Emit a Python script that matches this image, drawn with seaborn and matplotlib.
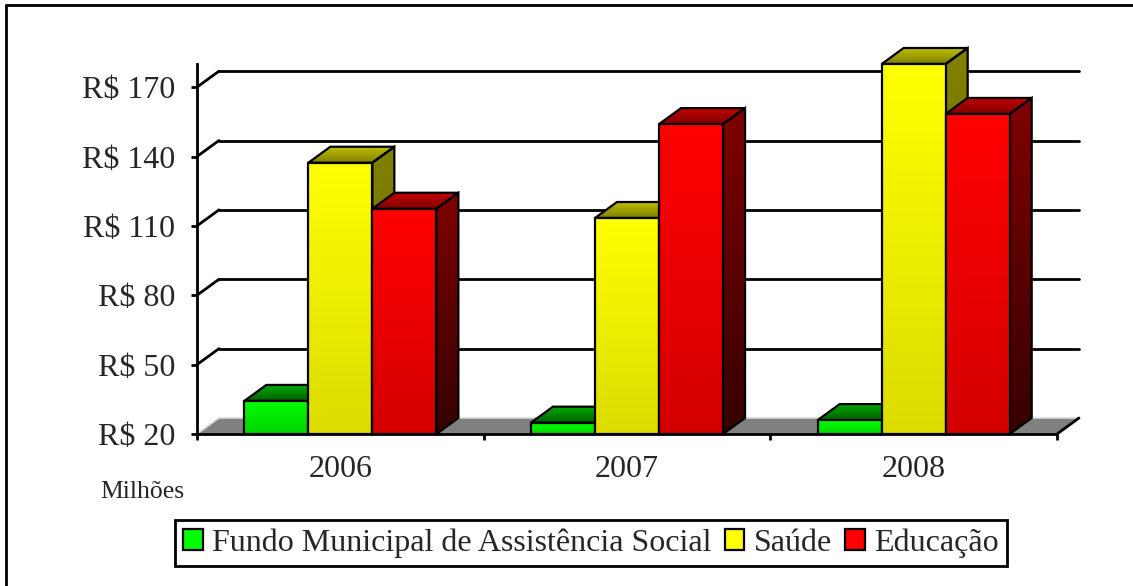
import numpy as np
import pandas as pd
import matplotlib.pyplot as plt
import seaborn as sns
from matplotlib.patches import Polygon, Patch
from matplotlib.lines import Line2D
from matplotlib.colors import LinearSegmentedColormap

# Dados (R$ milhões)
anos = ["2006", "2007", "2008"]
series = ["Fundo Municipal de Assistência Social", "Saúde", "Educação"]
fundo = [34.3, 24.9, 26.0]
saude = [137.3, 113.4, 180.0]
educacao = [117.4, 154.0, 158.4]
yticks = [20, 50, 80, 110, 140, 170]
ytick_labels = ["R$ 20", "R$ 50", "R$ 80", "R$ 110", "R$ 140", "R$ 170"]

# cores: frente (topo, base), tampa (fundo, frente), lateral (topo, base)
frente = {0: ("#00ff00", "#00d400"), 1: ("#ffff00", "#dcdc00"), 2: ("#ff0000", "#d40000")}
tampa = {0: ("#00a800", "#006000"), 1: ("#bcbc00", "#808000"), 2: ("#c40000", "#800000")}
lateral = {0: ("#008000", "#003000"), 1: ("#808000", "#6a6a00"), 2: ("#800000", "#360000")}

df = pd.DataFrame({
    "ano": anos * 3,
    "serie": [s for s in series for _ in anos],
    "valor": fundo + saude + educacao,
})

sns.set_style("white")
plt.rcParams["font.family"] = ["Liberation Serif", "DejaVu Serif"]

W, H = 1133, 586
fig = plt.figure(figsize=(W / 100, H / 100), dpi=100)
ax = fig.add_axes([197 / W, 152 / H, 860 / W, 370 / H])

sns.barplot(data=df, x="ano", y="valor", hue="serie", hue_order=series,
            palette={s: frente[i][0] for i, s in enumerate(series)},
            width=0.67, saturation=1, edgecolor="black", linewidth=1.6,
            legend=False, ax=ax)
barras = sorted([p for p in ax.patches if p.get_height() > 0], key=lambda p: p.get_x())

# profundidade do efeito 3D (22 px para a direita, 16 px para cima)
dx = 22 / (860 / 3)
dy = 16 / (370 / 160)
base = 20
lw = 2.0
fs = 23


def gradiente(artista, c_topo, c_base, ext, z):
    cmap = LinearSegmentedColormap.from_list("g", [c_base, c_topo])
    im = ax.imshow(np.linspace(0, 1, 64).reshape(-1, 1), cmap=cmap, extent=ext,
                   origin="lower", aspect="auto", zorder=z, interpolation="bilinear")
    im.set_clip_box(fig.bbox)
    if artista is not None:
        im.set_clip_path(artista)
    return im


# piso cinza e parede do fundo
piso = Polygon([(-0.5, base), (2.5, base), (2.5 + dx, base + dy), (-0.5 + dx, base + dy)],
               closed=True, facecolor="#808080", edgecolor="none", zorder=0.6, clip_on=False)
ax.add_patch(piso)
ax.plot([-0.5, -0.5 + dx, 2.5 + dx], [base, base + dy, base + dy], color="#d8d8d8",
        lw=1.2, zorder=0.7, clip_on=False)
ax.plot([2.5, 2.5 + dx], [base, base + dy], color="black", lw=lw, zorder=0.8, clip_on=False)
for y in yticks[1:]:
    ax.plot([-0.5 + dx, 2.5 + dx], [y + dy, y + dy], color="black", lw=lw, zorder=0.5,
            clip_on=False)
    ax.plot([-0.5, -0.5 + dx], [y, y + dy], color="black", lw=lw, zorder=0.5, clip_on=False)

# barras com faces 3D
for k, p in enumerate(barras):
    j = k % 3
    v = p.get_height()
    x0, x1 = p.get_x(), p.get_x() + p.get_width()
    z = 2 + j
    p.set_y(base)
    p.set_height(v - base)
    p.set_facecolor("none")
    p.set_zorder(z + 0.05)
    p.set_clip_on(False)
    gradiente(None, frente[j][0], frente[j][1], [x0, x1, base, v], z + 0.04)

    lado = Polygon([(x1, base), (x1 + dx, base + dy), (x1 + dx, v + dy), (x1, v)],
                   closed=True, facecolor="none", edgecolor="black", lw=1.6,
                   zorder=z + 0.03, clip_on=False)
    ax.add_patch(lado)
    gradiente(lado, lateral[j][0], lateral[j][1], [x1, x1 + dx, base, v + dy], z + 0.02)

    topo = Polygon([(x0, v), (x1, v), (x1 + dx, v + dy), (x0 + dx, v + dy)],
                   closed=True, facecolor="none", edgecolor="black", lw=1.6,
                   zorder=z + 0.03, clip_on=False)
    ax.add_patch(topo)
    gradiente(topo, tampa[j][0], tampa[j][1], [x0, x1 + dx, v, v + dy], z + 0.02)

ax.set_xlim(-0.5, 2.5)
ax.set_ylim(base, 180)

# eixos
sns.despine(ax=ax, top=True, right=True)
for lado_eixo in ["left", "bottom"]:
    ax.spines[lado_eixo].set_linewidth(lw)
    ax.spines[lado_eixo].set_color("black")
    ax.spines[lado_eixo].set_zorder(10)
ax.set_yticks(yticks)
ax.set_yticklabels(ytick_labels)
ax.set_xticks([0, 1, 2])
ax.set_xticklabels(anos)
ax.set_xticks([-0.5, 0.5, 1.5, 2.5], minor=True)
ax.tick_params(axis="y", which="major", direction="out", length=4.5, width=lw,
               color="black", labelsize=fs, pad=11, left=True)
ax.tick_params(axis="x", which="major", length=0, labelsize=fs, pad=15)
ax.tick_params(axis="x", which="minor", direction="out", length=4.5, width=lw,
               color="black", bottom=True)
ax.set_xlabel("")
ax.set_ylabel("")
ax.grid(False)

fig.text(100 / W, 1 - 492 / H, "Milhões", fontsize=18.5, ha="left", va="center")

# legenda
handles = [Patch(facecolor=frente[i][0], edgecolor="black", lw=1.6) for i in range(3)]
leg = fig.legend(handles, series, loc="center", bbox_to_anchor=(591 / W, 1 - 543 / H),
                 bbox_transform=fig.transFigure, ncol=3, fontsize=fs, frameon=True,
                 fancybox=False, framealpha=1, edgecolor="black", borderpad=0.25,
                 handlelength=0.62, handleheight=0.62, handletextpad=0.3,
                 columnspacing=0.4, borderaxespad=0)
leg.get_frame().set_linewidth(lw)

# moldura externa
fig.add_artist(Line2D([6 / W, 1.0], [1 - 5 / H, 1 - 5 / H], color="black", lw=lw,
                      transform=fig.transFigure))
fig.add_artist(Line2D([6 / W, 6 / W], [0.0, 1 - 5 / H], color="black", lw=lw,
                      transform=fig.transFigure))

fig.savefig("out.png", dpi=100, facecolor="white")
